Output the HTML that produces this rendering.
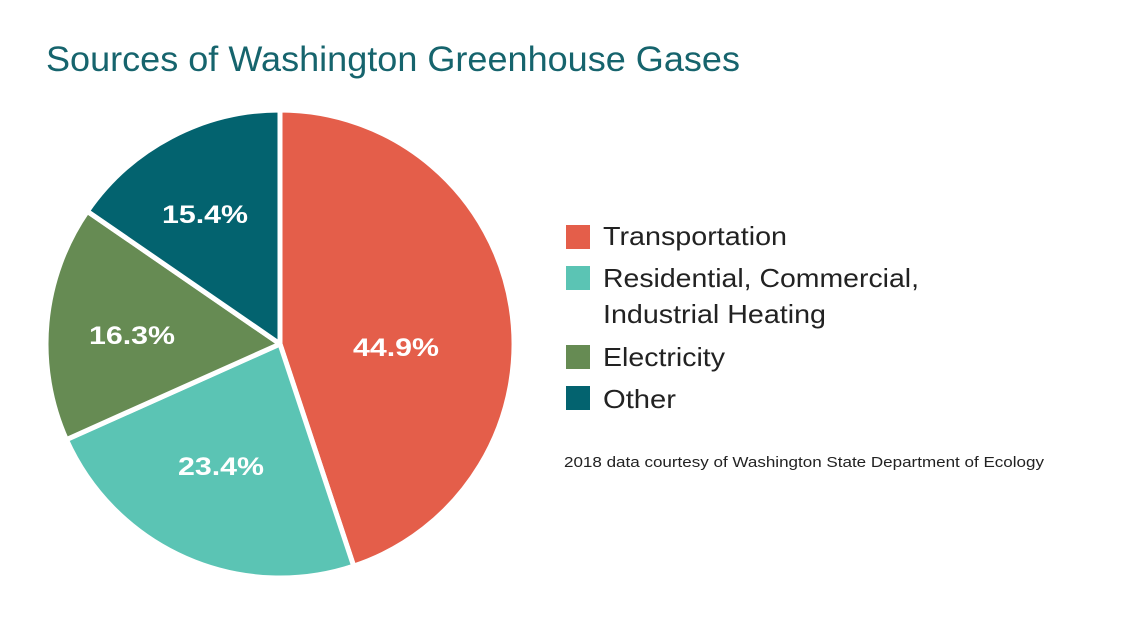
<!DOCTYPE html>
<html><head><meta charset="utf-8"><style>
body{margin:0;width:1125px;height:625px;background:#fff;overflow:hidden;font-family:"Liberation Sans",sans-serif;}
</style></head><body>
<svg width="1125" height="625" xmlns="http://www.w3.org/2000/svg" font-family="Liberation Sans, sans-serif">
<text x="46" y="71" font-size="35" fill="#16646d" textLength="694" lengthAdjust="spacingAndGlyphs">Sources of Washington Greenhouse Gases</text>
<g stroke="#fff" stroke-width="5" stroke-linejoin="round">
<path d="M280,344 L280,110 A234,234 0 0 1 353.7,566.1 Z" fill="#e45e4a"/>
<path d="M280,344 L353.7,566.1 A234,234 0 0 1 66.4,439.6 Z" fill="#5bc4b4"/>
<path d="M280,344 L66.4,439.6 A234,234 0 0 1 87.3,211.3 Z" fill="#668b53"/>
<path d="M280,344 L87.3,211.3 A234,234 0 0 1 280,110 Z" fill="#03636f"/>
</g>
<g fill="#fff" font-size="25" font-weight="bold">
<text x="353" y="356" textLength="86" lengthAdjust="spacingAndGlyphs">44.9%</text>
<text x="178" y="475" textLength="86" lengthAdjust="spacingAndGlyphs">23.4%</text>
<text x="89" y="344" textLength="86" lengthAdjust="spacingAndGlyphs">16.3%</text>
<text x="162" y="223" textLength="86" lengthAdjust="spacingAndGlyphs">15.4%</text>
</g>
<rect x="566" y="225" width="24" height="24" fill="#e45e4a"/>
<rect x="566" y="266" width="24" height="24" fill="#5bc4b4"/>
<rect x="566" y="345" width="24" height="24" fill="#668b53"/>
<rect x="566" y="386" width="24" height="24" fill="#03636f"/>
<g font-size="26" fill="#222">
<text x="603" y="245" textLength="184" lengthAdjust="spacingAndGlyphs">Transportation</text>
<text x="603" y="287" textLength="316" lengthAdjust="spacingAndGlyphs">Residential, Commercial,</text>
<text x="603" y="323" textLength="223" lengthAdjust="spacingAndGlyphs">Industrial Heating</text>
<text x="603" y="366" textLength="122" lengthAdjust="spacingAndGlyphs">Electricity</text>
<text x="603" y="408" textLength="73" lengthAdjust="spacingAndGlyphs">Other</text>
</g>
<text x="564" y="467" font-size="15" fill="#222" textLength="480" lengthAdjust="spacingAndGlyphs">2018 data courtesy of Washington State Department of Ecology</text>
</svg>
</body></html>
